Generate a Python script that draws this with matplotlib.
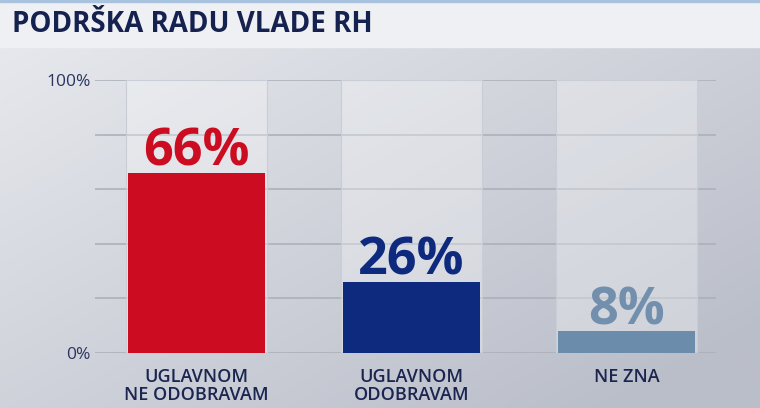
import numpy as np
import matplotlib
matplotlib.use("Agg")
import matplotlib.pyplot as plt
from matplotlib.patches import Rectangle

# data
categories = ["UGLAVNOM\nNE ODOBRAVAM", "UGLAVNOM\nODOBRAVAM", "NE ZNA"]
values = [66, 26, 8]
bar_colors = ["#cc0c20", "#0e2a7e", "#6b8dab"]
label_colors = ["#cc0c20", "#0e2a7e", "#7290ad"]
yticks = [0, 20, 40, 60, 80, 100]
ytick_labels = ["0%", "", "", "", "", "100%"]
title = "PODRŠKA RADU VLADE RH"

W, H = 760, 408
fig = plt.figure(figsize=(W / 100, H / 100), dpi=100)

# background gradient
bg = fig.add_axes([0, 0, 1, 1], zorder=-10)
yy, xx = np.mgrid[0:1:200j, 0:1:300j]
t = np.clip(0.55 * xx + 0.55 * yy, 0, 1)
c0 = np.array([233, 235, 239]) / 255
c1 = np.array([186, 190, 201]) / 255
img = c0[None, None, :] * (1 - t[..., None]) + c1[None, None, :] * t[..., None]
bg.imshow(img, aspect="auto", extent=[0, 1, 0, 1], origin="upper")
bg.set_xlim(0, 1)
bg.set_ylim(0, 1)
bg.axis("off")

# title band
bg.add_patch(Rectangle((0, 1 - 47 / H), 1, 47 / H, color="#eef0f3", zorder=2))
bg.add_patch(Rectangle((0, 1 - 2 / H), 1, 2 / H, color="#a9c3de", zorder=3))
bg.text(12 / W, 1 - 25 / H, title, fontsize=20, fontweight="bold",
        family="Open Sans", color="#15214f", va="center", ha="left", zorder=4)

# chart
x0, x1 = 95, 716
ybot, ytop = 353, 80
ax = fig.add_axes([x0 / W, 1 - ybot / H, (x1 - x0) / W, (ybot - ytop) / H])
ax.patch.set_alpha(0)
pos = np.arange(len(categories))
ax.set_xlim((x0 - 196.5) / 215, (x1 - 196.5) / 215)
ax.set_ylim(0, 100)

for y in yticks:
    ax.axhline(y, color="#a9aeb7", lw=1.1, zorder=1)

# lighter columns behind bars
ax.bar(pos, [100] * len(pos), width=0.655, color="white", alpha=0.3, zorder=2)
ax.bar(pos, [100] * len(pos), width=0.655, fill=False, edgecolor="#c9cdd5",
       linewidth=0.8, zorder=2)
ax.bar(pos, values, width=0.635, color=bar_colors, zorder=3)

for p, v, c in zip(pos, values, label_colors):
    ax.text(p, v + 2.6, f"{v}%", ha="center", va="baseline", fontsize=37.5,
            fontweight="bold", family="Open Sans", color=c, zorder=4)

ax.set_yticks(yticks)
ax.set_yticklabels(ytick_labels, fontsize=12.5, color="#2a3560", family="Open Sans")
ax.set_xticks(pos)
ax.set_xticklabels(categories, fontsize=13, color="#1a2550", family="Open Sans",
                   fontweight="semibold", linespacing=1.0)
ax.tick_params(axis="y", length=0, pad=3)
ax.tick_params(axis="x", length=0, pad=11)
for s in ax.spines.values():
    s.set_visible(False)

fig.savefig("out.png", dpi=100)
